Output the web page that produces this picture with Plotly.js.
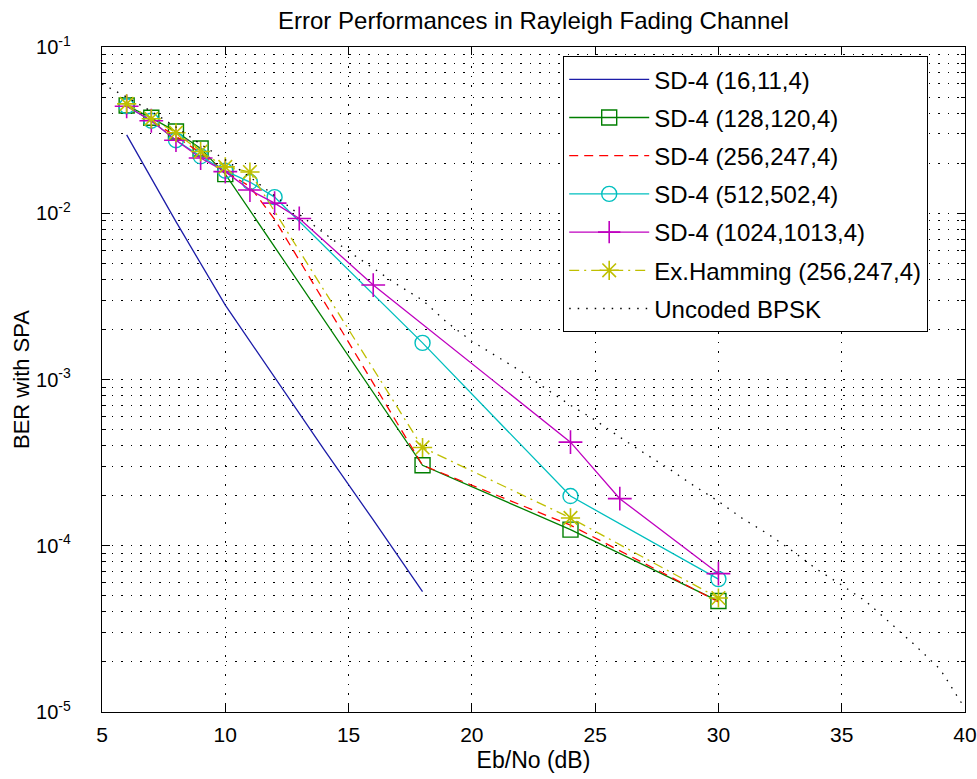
<!DOCTYPE html>
<html>
<head>
<meta charset="utf-8">
<script src="https://cdn.plot.ly/plotly-3.0.1.min.js"></script>
<style>html,body{margin:0;padding:0;background:#fff;}#chart{width:977px;height:779px;}</style>
</head>
<body>
<div id="chart"></div>
<script>
// ---- data ----
var seriesNames = ['SD-4 (16,11,4)','SD-4 (128,120,4)','SD-4 (256,247,4)','SD-4 (512,502,4)','SD-4 (1024,1013,4)','Ex.Hamming (256,247,4)','Uncoded BPSK'];

var snrSD16 = [6, 8, 10, 12, 14, 16, 18];
var berSD16 = [0.0296, 0.0089, 0.0028, 0.00103, 0.00038, 0.000143, 0.000053];

var snrSD128 = [6, 7, 8, 9, 10, 18, 24, 30];
var berSD128 = [0.0445, 0.0375, 0.031, 0.0245, 0.0172, 0.000305, 0.000125, 0.0000465];

var snrSD256 = [6, 7, 8, 9, 10, 11, 12, 18, 24, 30];
var berSD256 = [0.0445, 0.036, 0.029, 0.023, 0.0178, 0.0145, 0.0092, 0.000305, 0.000133, 0.000046];

var snrSD512 = [6, 7, 8, 9, 10, 11, 12, 18, 24, 30];
var berSD512 = [0.044, 0.036, 0.0275, 0.022, 0.018, 0.0154, 0.0125, 0.00166, 0.000199, 0.000063];

var snrSD1024 = [6, 7, 8, 9, 10, 11, 12, 13, 16, 24, 26, 30];
var berSD1024 = [0.044, 0.036, 0.0275, 0.0215, 0.0178, 0.0138, 0.0115, 0.0093, 0.0037, 0.00042, 0.000192, 0.000068];

var snrHam = [6, 7, 8, 9, 10, 11, 18, 24, 30];
var berHam = [0.0455, 0.037, 0.0305, 0.0235, 0.019, 0.0177, 0.00039, 0.000147, 0.0000485];

var snrUnc = [5,6,7,8,9,10,11,12,13,14,15,16,17,18,19,20,21,22,23,24,25,26,27,28,29,30,31,32,33,34,35,36,37,38,39,40];
var berUnc = [0.060,0.050,0.041,0.033,0.026,0.021,0.0165,0.0127,0.0098,0.0076,0.0059,0.0047,0.0037,0.0030,0.0022,0.0017,0.00138,0.00112,0.00088,0.00070,0.00057,0.00045,0.00036,0.00029,0.00023,0.000185,0.000145,0.000118,0.000093,0.000072,0.000058,0.000046,0.000034,0.000025,0.000018,0.0000105];

var xTickVals = [5, 10, 15, 20, 25, 30, 35, 40];
var yTickVals = [1e-5, 1e-4, 1e-3, 1e-2, 1e-1];
var yTickText = ['10<sup>-5</sup>','10<sup>-4</sup>','10<sup>-3</sup>','10<sup>-2</sup>','10<sup>-1</sup>'];

// minor tick positions (2..9 in each decade)
var yMinor = [];
for (var d = -5; d < -1; d++) { for (var k = 2; k <= 9; k++) { yMinor.push(k * Math.pow(10, d)); } }

var lw = 1.3;
var traces = [
  {x: snrSD16, y: berSD16, name: seriesNames[0], mode: 'lines', line: {color: '#1c1ca8', width: lw}},
  {x: snrSD128, y: berSD128, name: seriesNames[1], mode: 'lines+markers', line: {color: '#007f00', width: lw},
   marker: {symbol: 'square-open', size: 15, color: '#007f00', line: {width: 1.4, color: '#007f00'}}},
  {x: snrSD256, y: berSD256, name: seriesNames[2], mode: 'lines', line: {color: '#ff0000', width: lw, dash: '9px,6px'}},
  {x: snrSD512, y: berSD512, name: seriesNames[3], mode: 'lines+markers', line: {color: '#00bfbf', width: lw},
   marker: {symbol: 'circle-open', size: 15, color: '#00bfbf', line: {width: 1.4, color: '#00bfbf'}}},
  {x: snrSD1024, y: berSD1024, name: seriesNames[4], mode: 'lines+markers', line: {color: '#bf00bf', width: lw},
   marker: {symbol: 'cross-thin-open', size: 17, color: '#bf00bf', line: {width: 1.6, color: '#bf00bf'}}},
  {x: snrHam, y: berHam, name: seriesNames[5], mode: 'lines+markers', line: {color: '#bfbf00', width: lw, dash: '10px,5px,2px,5px'},
   marker: {symbol: 'asterisk-open', size: 16, color: '#bfbf00', line: {width: 1.6, color: '#bfbf00'}}},
  {x: snrUnc, y: berUnc, name: seriesNames[6], mode: 'lines', line: {color: '#000000', width: 1.3, dash: '1.5px,7px'}}
];
traces.forEach(function (t, i) { t.type = 'scatter'; t.legendgroup = 'g' + i; });

var fontFam = '"Liberation Sans", Arial, Helvetica, sans-serif';
var gridDash = '1.5px,8px';

var layout = {
  width: 977, height: 779,
  margin: {l: 102, r: 12, t: 47, b: 67},
  paper_bgcolor: '#ffffff', plot_bgcolor: '#ffffff',
  font: {family: fontFam, color: '#000000', size: 20},
  showlegend: true,
  title: {text: 'Error Performances in Rayleigh Fading Channel', x: 0.5, xref: 'paper', xanchor: 'center',
          y: 1 - 21 / 779, yref: 'container', yanchor: 'middle', font: {family: fontFam, size: 24, color: '#000'}},
  xaxis: {
    range: [5, 40], tickmode: 'array', tickvals: xTickVals, ticks: 'inside', ticklen: 8, tickcolor: '#000',
    mirror: 'allticks', showline: true, linecolor: '#000', linewidth: 1.2, zeroline: false,
    showgrid: true, gridcolor: '#000', gridwidth: 1, griddash: gridDash,
    tickfont: {size: 21}, ticklabelstandoff: 4,
    title: {text: 'Eb/No (dB)', font: {size: 23}, standoff: 6}
  },
  yaxis: {
    type: 'log', range: [-5, -1], tickmode: 'array', tickvals: yTickVals, ticktext: yTickText,
    ticks: 'inside', ticklen: 8, tickcolor: '#000',
    mirror: 'allticks', showline: true, linecolor: '#000', linewidth: 1.2, zeroline: false,
    showgrid: true, gridcolor: '#000', gridwidth: 1, griddash: gridDash,
    tickfont: {size: 20}, ticklabelstandoff: 26,
    title: {text: 'BER with SPA', font: {size: 22}, standoff: 0},
    minor: {tickmode: 'array', tickvals: yMinor, ticks: 'inside', ticklen: 4, tickcolor: '#000',
            showgrid: true, gridcolor: '#000', gridwidth: 1, griddash: gridDash}
  },
  legend: {
    x: (563 - 102) / 863, y: 1 - (56 - 47) / 665, xanchor: 'left', yanchor: 'top',
    bgcolor: '#ffffff', bordercolor: '#000000', borderwidth: 1.2,
    font: {family: fontFam, size: 24, color: '#000'},
    tracegroupgap: 4, itemwidth: 80
  }
};

Plotly.newPlot('chart', traces, layout, {displayModeBar: false, staticPlot: true});
</script>
</body>
</html>
